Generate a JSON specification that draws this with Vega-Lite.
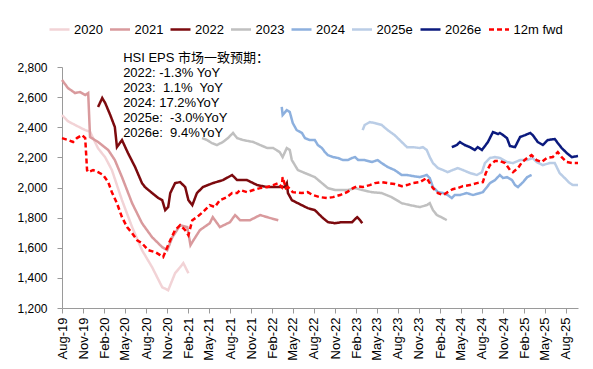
{
  "$schema": "https://vega.github.io/schema/vega-lite/v6.json",
  "width": 516,
  "height": 241,
  "autosize": {"type": "none"},
  "padding": {"left": 62, "top": 67, "right": 15, "bottom": 61},
  "background": "white",
  "config": {
    "view": {"stroke": null},
    "font": "Liberation Sans",
    "axis": {"labelFont": "Liberation Sans", "labelColor": "#000000", "domainColor": "#9a9a9a", "tickColor": "#9a9a9a", "grid": false, "title": null, "labelOverlap": false},
    "legend": {"labelFont": "Liberation Sans", "labelColor": "#000000"}
  },
  "encoding": {
    "x": {
      "field": "d", "type": "temporal",
      "scale": {"domain": [{"year": 2019, "month": 8, "date": 1}, {"year": 2025, "month": 9, "date": 23}], "nice": false},
      "axis": {
        "format": "%b-%y", "labelAngle": -90, "labelFontSize": 13, "labelPadding": 4, "tickSize": 5, "labelOverlap": false,
        "values": [
          {"year":2019,"month":8,"date":1},{"year":2019,"month":11,"date":1},{"year":2020,"month":2,"date":1},{"year":2020,"month":5,"date":1},{"year":2020,"month":8,"date":1},{"year":2020,"month":11,"date":1},{"year":2021,"month":2,"date":1},{"year":2021,"month":5,"date":1},{"year":2021,"month":8,"date":1},{"year":2021,"month":11,"date":1},{"year":2022,"month":2,"date":1},{"year":2022,"month":5,"date":1},{"year":2022,"month":8,"date":1},{"year":2022,"month":11,"date":1},{"year":2023,"month":2,"date":1},{"year":2023,"month":5,"date":1},{"year":2023,"month":8,"date":1},{"year":2023,"month":11,"date":1},{"year":2024,"month":2,"date":1},{"year":2024,"month":5,"date":1},{"year":2024,"month":8,"date":1},{"year":2024,"month":11,"date":1},{"year":2025,"month":2,"date":1},{"year":2025,"month":5,"date":1},{"year":2025,"month":8,"date":1}
        ]
      }
    },
    "y": {
      "field": "v", "type": "quantitative",
      "scale": {"domain": [1200, 2800], "nice": false, "zero": false},
      "axis": {"values": [1200, 1400, 1600, 1800, 2000, 2200, 2400, 2600, 2800], "format": ",.0f", "labelFontSize": 12, "tickSize": 5, "labelPadding": 10, "labelOverlap": false}
    }
  },
  "layer": [
    {
      "data": {"values": [
        {"s":"2020","d":"2019/08/01","v":2481},{"s":"2020","d":"2019/08/27","v":2440},{"s":"2020","d":"2019/09/27","v":2415},{"s":"2020","d":"2019/11/10","v":2381},{"s":"2020","d":"2019/12/01","v":2370},{"s":"2020","d":"2020/01/05","v":2260},{"s":"2020","d":"2020/02/05","v":2200},{"s":"2020","d":"2020/03/05","v":2116},{"s":"2020","d":"2020/04/18","v":1916},{"s":"2020","d":"2020/06/01","v":1737},{"s":"2020","d":"2020/07/14","v":1584},{"s":"2020","d":"2020/08/27","v":1471},{"s":"2020","d":"2020/10/10","v":1338},{"s":"2020","d":"2020/11/05","v":1318},{"s":"2020","d":"2020/12/05","v":1431},{"s":"2020","d":"2020/12/27","v":1471},{"s":"2020","d":"2021/01/10","v":1498},{"s":"2020","d":"2021/02/01","v":1431},

        {"s":"2021","d":"2019/08/01","v":2714},{"s":"2021","d":"2019/08/27","v":2660},{"s":"2021","d":"2019/09/27","v":2627},{"s":"2021","d":"2019/10/18","v":2634},{"s":"2021","d":"2019/11/10","v":2614},{"s":"2021","d":"2019/11/23","v":2627},{"s":"2021","d":"2019/12/01","v":2335},{"s":"2021","d":"2020/01/05","v":2302},{"s":"2021","d":"2020/02/18","v":2249},{"s":"2021","d":"2020/03/18","v":2182},{"s":"2021","d":"2020/04/18","v":2069},{"s":"2021","d":"2020/06/01","v":1896},{"s":"2021","d":"2020/07/14","v":1763},{"s":"2021","d":"2020/08/27","v":1670},{"s":"2021","d":"2020/10/10","v":1604},{"s":"2021","d":"2020/11/01","v":1584},{"s":"2021","d":"2020/11/23","v":1670},{"s":"2021","d":"2020/12/05","v":1697},{"s":"2021","d":"2020/12/27","v":1750},{"s":"2021","d":"2021/01/27","v":1737},{"s":"2021","d":"2021/02/10","v":1617},{"s":"2021","d":"2021/02/23","v":1650},{"s":"2021","d":"2021/03/23","v":1717},{"s":"2021","d":"2021/05/05","v":1763},{"s":"2021","d":"2021/05/18","v":1803},{"s":"2021","d":"2021/06/18","v":1737},{"s":"2021","d":"2021/08/01","v":1770},{"s":"2021","d":"2021/08/23","v":1817},{"s":"2021","d":"2021/09/14","v":1783},{"s":"2021","d":"2021/10/27","v":1783},{"s":"2021","d":"2021/12/10","v":1817},{"s":"2021","d":"2022/01/23","v":1797},{"s":"2021","d":"2022/02/27","v":1783},

        {"s":"2022","d":"2020/01/05","v":2535},{"s":"2022","d":"2020/01/23","v":2594},{"s":"2022","d":"2020/02/05","v":2561},{"s":"2022","d":"2020/02/27","v":2481},{"s":"2022","d":"2020/03/18","v":2401},{"s":"2022","d":"2020/03/27","v":2268},{"s":"2022","d":"2020/04/18","v":2315},{"s":"2022","d":"2020/05/14","v":2229},{"s":"2022","d":"2020/06/14","v":2136},{"s":"2022","d":"2020/07/14","v":2029},{"s":"2022","d":"2020/07/27","v":2003},{"s":"2022","d":"2020/08/27","v":1963},{"s":"2022","d":"2020/09/23","v":1930},{"s":"2022","d":"2020/10/10","v":1916},{"s":"2022","d":"2020/10/23","v":1850},{"s":"2022","d":"2020/11/05","v":1870},{"s":"2022","d":"2020/11/14","v":1963},{"s":"2022","d":"2020/12/05","v":2029},{"s":"2022","d":"2020/12/27","v":2036},{"s":"2022","d":"2021/01/18","v":2003},{"s":"2022","d":"2021/02/01","v":1916},{"s":"2022","d":"2021/02/18","v":1883},{"s":"2022","d":"2021/03/10","v":1963},{"s":"2022","d":"2021/04/05","v":2003},{"s":"2022","d":"2021/05/18","v":2029},{"s":"2022","d":"2021/07/01","v":2049},{"s":"2022","d":"2021/08/10","v":2083},{"s":"2022","d":"2021/09/01","v":2049},{"s":"2022","d":"2021/10/14","v":2049},{"s":"2022","d":"2021/11/27","v":2016},{"s":"2022","d":"2022/01/10","v":2003},{"s":"2022","d":"2022/03/05","v":2003},{"s":"2022","d":"2022/03/27","v":2003},{"s":"2022","d":"2022/04/05","v":2029},{"s":"2022","d":"2022/04/10","v":1963},{"s":"2022","d":"2022/04/27","v":1916},{"s":"2022","d":"2022/05/23","v":1896},{"s":"2022","d":"2022/07/05","v":1863},{"s":"2022","d":"2022/08/05","v":1850},{"s":"2022","d":"2022/09/05","v":1803},{"s":"2022","d":"2022/10/01","v":1770},{"s":"2022","d":"2022/11/01","v":1763},{"s":"2022","d":"2022/12/01","v":1770},{"s":"2022","d":"2023/01/14","v":1770},{"s":"2022","d":"2023/02/05","v":1803},{"s":"2022","d":"2023/02/18","v":1783},{"s":"2022","d":"2023/02/27","v":1763},

        {"s":"2023","d":"2021/04/01","v":2328},{"s":"2023","d":"2021/04/23","v":2315},{"s":"2023","d":"2021/05/14","v":2295},{"s":"2023","d":"2021/06/05","v":2282},{"s":"2023","d":"2021/07/01","v":2302},{"s":"2023","d":"2021/07/23","v":2328},{"s":"2023","d":"2021/08/14","v":2362},{"s":"2023","d":"2021/09/01","v":2328},{"s":"2023","d":"2021/09/27","v":2315},{"s":"2023","d":"2021/11/10","v":2302},{"s":"2023","d":"2021/12/10","v":2282},{"s":"2023","d":"2022/01/10","v":2262},{"s":"2023","d":"2022/02/05","v":2262},{"s":"2023","d":"2022/03/05","v":2235},{"s":"2023","d":"2022/03/18","v":2202},{"s":"2023","d":"2022/04/05","v":2262},{"s":"2023","d":"2022/04/18","v":2249},{"s":"2023","d":"2022/04/27","v":2182},{"s":"2023","d":"2022/05/23","v":2116},{"s":"2023","d":"2022/06/23","v":2096},{"s":"2023","d":"2022/08/05","v":2069},{"s":"2023","d":"2022/09/05","v":2029},{"s":"2023","d":"2022/10/01","v":1996},{"s":"2023","d":"2022/11/01","v":1983},{"s":"2023","d":"2022/12/27","v":1983},{"s":"2023","d":"2023/01/27","v":1996},{"s":"2023","d":"2023/02/27","v":1983},{"s":"2023","d":"2023/04/10","v":1969},{"s":"2023","d":"2023/05/23","v":1963},{"s":"2023","d":"2023/07/05","v":1936},{"s":"2023","d":"2023/08/18","v":1896},{"s":"2023","d":"2023/09/23","v":1883},{"s":"2023","d":"2023/11/05","v":1870},{"s":"2023","d":"2023/12/05","v":1883},{"s":"2023","d":"2023/12/18","v":1896},{"s":"2023","d":"2024/01/01","v":1850},{"s":"2023","d":"2024/01/18","v":1817},{"s":"2023","d":"2024/02/14","v":1797},{"s":"2023","d":"2024/03/01","v":1783},

        {"s":"2024","d":"2022/03/14","v":2535},{"s":"2024","d":"2022/03/18","v":2481},{"s":"2024","d":"2022/04/05","v":2514},{"s":"2024","d":"2022/04/18","v":2501},{"s":"2024","d":"2022/05/01","v":2428},{"s":"2024","d":"2022/05/18","v":2381},{"s":"2024","d":"2022/06/10","v":2362},{"s":"2024","d":"2022/06/23","v":2328},{"s":"2024","d":"2022/07/14","v":2315},{"s":"2024","d":"2022/08/05","v":2315},{"s":"2024","d":"2022/08/18","v":2282},{"s":"2024","d":"2022/09/05","v":2262},{"s":"2024","d":"2022/09/18","v":2235},{"s":"2024","d":"2022/10/01","v":2215},{"s":"2024","d":"2022/10/23","v":2202},{"s":"2024","d":"2022/11/14","v":2196},{"s":"2024","d":"2022/12/05","v":2182},{"s":"2024","d":"2022/12/27","v":2182},{"s":"2024","d":"2023/01/14","v":2196},{"s":"2024","d":"2023/01/27","v":2202},{"s":"2024","d":"2023/02/10","v":2182},{"s":"2024","d":"2023/03/10","v":2182},{"s":"2024","d":"2023/04/10","v":2169},{"s":"2024","d":"2023/05/05","v":2182},{"s":"2024","d":"2023/05/23","v":2162},{"s":"2024","d":"2023/06/18","v":2136},{"s":"2024","d":"2023/07/18","v":2116},{"s":"2024","d":"2023/08/18","v":2083},{"s":"2024","d":"2023/09/10","v":2083},{"s":"2024","d":"2023/10/05","v":2076},{"s":"2024","d":"2023/11/05","v":2069},{"s":"2024","d":"2023/12/05","v":2083},{"s":"2024","d":"2023/12/18","v":2063},{"s":"2024","d":"2024/01/01","v":2003},{"s":"2024","d":"2024/01/23","v":1969},{"s":"2024","d":"2024/02/14","v":1963},{"s":"2024","d":"2024/03/05","v":1950},{"s":"2024","d":"2024/03/23","v":1930},{"s":"2024","d":"2024/04/05","v":1950},{"s":"2024","d":"2024/04/27","v":1950},{"s":"2024","d":"2024/05/27","v":1963},{"s":"2024","d":"2024/06/23","v":1950},{"s":"2024","d":"2024/07/23","v":1963},{"s":"2024","d":"2024/08/05","v":1969},{"s":"2024","d":"2024/08/23","v":2003},{"s":"2024","d":"2024/09/05","v":2029},{"s":"2024","d":"2024/09/27","v":2049},{"s":"2024","d":"2024/10/18","v":2083},{"s":"2024","d":"2024/11/01","v":2063},{"s":"2024","d":"2024/11/18","v":2069},{"s":"2024","d":"2024/12/10","v":2049},{"s":"2024","d":"2024/12/23","v":2016},{"s":"2024","d":"2025/01/05","v":2003},{"s":"2024","d":"2025/01/27","v":2036},{"s":"2024","d":"2025/02/14","v":2069},{"s":"2024","d":"2025/03/05","v":2083},

        {"s":"2025e","d":"2023/03/01","v":2381},{"s":"2025e","d":"2023/03/10","v":2415},{"s":"2025e","d":"2023/04/01","v":2434},{"s":"2025e","d":"2023/04/23","v":2428},{"s":"2025e","d":"2023/05/23","v":2415},{"s":"2025e","d":"2023/06/18","v":2381},{"s":"2025e","d":"2023/07/18","v":2348},{"s":"2025e","d":"2023/08/18","v":2302},{"s":"2025e","d":"2023/09/10","v":2268},{"s":"2025e","d":"2023/10/05","v":2268},{"s":"2025e","d":"2023/11/05","v":2262},{"s":"2025e","d":"2023/11/18","v":2268},{"s":"2025e","d":"2023/12/05","v":2249},{"s":"2025e","d":"2023/12/18","v":2202},{"s":"2025e","d":"2024/01/01","v":2162},{"s":"2025e","d":"2024/01/23","v":2129},{"s":"2025e","d":"2024/02/14","v":2116},{"s":"2025e","d":"2024/03/05","v":2102},{"s":"2025e","d":"2024/03/27","v":2116},{"s":"2025e","d":"2024/04/18","v":2129},{"s":"2025e","d":"2024/05/10","v":2116},{"s":"2025e","d":"2024/06/10","v":2096},{"s":"2025e","d":"2024/07/10","v":2083},{"s":"2025e","d":"2024/08/01","v":2102},{"s":"2025e","d":"2024/08/14","v":2162},{"s":"2025e","d":"2024/09/05","v":2196},{"s":"2025e","d":"2024/09/27","v":2202},{"s":"2025e","d":"2024/10/18","v":2196},{"s":"2025e","d":"2024/11/18","v":2169},{"s":"2025e","d":"2024/12/14","v":2162},{"s":"2025e","d":"2025/01/14","v":2182},{"s":"2025e","d":"2025/02/14","v":2182},{"s":"2025e","d":"2025/03/10","v":2196},{"s":"2025e","d":"2025/03/27","v":2169},{"s":"2025e","d":"2025/04/23","v":2149},{"s":"2025e","d":"2025/05/23","v":2162},{"s":"2025e","d":"2025/06/14","v":2162},{"s":"2025e","d":"2025/07/05","v":2096},{"s":"2025e","d":"2025/07/27","v":2063},{"s":"2025e","d":"2025/08/18","v":2029},{"s":"2025e","d":"2025/09/01","v":2016},{"s":"2025e","d":"2025/09/23","v":2016},

        {"s":"2026e","d":"2024/03/23","v":2268},{"s":"2026e","d":"2024/04/14","v":2282},{"s":"2026e","d":"2024/04/27","v":2302},{"s":"2026e","d":"2024/05/18","v":2282},{"s":"2026e","d":"2024/06/10","v":2268},{"s":"2026e","d":"2024/07/01","v":2249},{"s":"2026e","d":"2024/07/14","v":2268},{"s":"2026e","d":"2024/08/01","v":2249},{"s":"2026e","d":"2024/08/14","v":2275},{"s":"2026e","d":"2024/08/27","v":2302},{"s":"2026e","d":"2024/09/18","v":2368},{"s":"2026e","d":"2024/10/10","v":2355},{"s":"2026e","d":"2024/10/18","v":2362},{"s":"2026e","d":"2024/11/01","v":2348},{"s":"2026e","d":"2024/11/18","v":2328},{"s":"2026e","d":"2024/12/01","v":2275},{"s":"2026e","d":"2024/12/23","v":2268},{"s":"2026e","d":"2025/01/14","v":2335},{"s":"2026e","d":"2025/02/05","v":2348},{"s":"2026e","d":"2025/02/27","v":2362},{"s":"2026e","d":"2025/03/10","v":2348},{"s":"2026e","d":"2025/04/01","v":2302},{"s":"2026e","d":"2025/04/23","v":2282},{"s":"2026e","d":"2025/05/14","v":2315},{"s":"2026e","d":"2025/06/14","v":2322},{"s":"2026e","d":"2025/06/27","v":2295},{"s":"2026e","d":"2025/07/14","v":2262},{"s":"2026e","d":"2025/08/05","v":2229},{"s":"2026e","d":"2025/08/27","v":2202},{"s":"2026e","d":"2025/09/23","v":2209},

        {"s":"12m fwd","d":"2019/08/01","v":2328},{"s":"12m fwd","d":"2019/08/27","v":2315},{"s":"12m fwd","d":"2019/09/18","v":2302},{"s":"12m fwd","d":"2019/10/05","v":2328},{"s":"12m fwd","d":"2019/10/27","v":2348},{"s":"12m fwd","d":"2019/11/10","v":2328},{"s":"12m fwd","d":"2019/11/18","v":2116},{"s":"12m fwd","d":"2019/11/23","v":2102},{"s":"12m fwd","d":"2019/12/14","v":2116},{"s":"12m fwd","d":"2020/01/05","v":2102},{"s":"12m fwd","d":"2020/01/27","v":2083},{"s":"12m fwd","d":"2020/02/18","v":2036},{"s":"12m fwd","d":"2020/03/05","v":1969},{"s":"12m fwd","d":"2020/03/27","v":1896},{"s":"12m fwd","d":"2020/04/18","v":1803},{"s":"12m fwd","d":"2020/05/10","v":1737},{"s":"12m fwd","d":"2020/06/01","v":1697},{"s":"12m fwd","d":"2020/06/23","v":1650},{"s":"12m fwd","d":"2020/07/14","v":1630},{"s":"12m fwd","d":"2020/08/10","v":1584},{"s":"12m fwd","d":"2020/09/10","v":1571},{"s":"12m fwd","d":"2020/10/01","v":1551},{"s":"12m fwd","d":"2020/10/14","v":1538},{"s":"12m fwd","d":"2020/11/01","v":1604},{"s":"12m fwd","d":"2020/11/14","v":1650},{"s":"12m fwd","d":"2020/12/05","v":1717},{"s":"12m fwd","d":"2020/12/27","v":1750},{"s":"12m fwd","d":"2021/01/18","v":1717},{"s":"12m fwd","d":"2021/02/01","v":1684},{"s":"12m fwd","d":"2021/02/18","v":1783},{"s":"12m fwd","d":"2021/03/10","v":1803},{"s":"12m fwd","d":"2021/04/05","v":1837},{"s":"12m fwd","d":"2021/05/05","v":1883},{"s":"12m fwd","d":"2021/05/27","v":1870},{"s":"12m fwd","d":"2021/06/18","v":1916},{"s":"12m fwd","d":"2021/07/18","v":1936},{"s":"12m fwd","d":"2021/08/10","v":1963},{"s":"12m fwd","d":"2021/09/01","v":1963},{"s":"12m fwd","d":"2021/09/14","v":1983},{"s":"12m fwd","d":"2021/10/14","v":1969},{"s":"12m fwd","d":"2021/11/10","v":1983},{"s":"12m fwd","d":"2021/12/10","v":1996},{"s":"12m fwd","d":"2022/01/10","v":2003},{"s":"12m fwd","d":"2022/02/05","v":2016},{"s":"12m fwd","d":"2022/02/27","v":2029},{"s":"12m fwd","d":"2022/03/14","v":2003},{"s":"12m fwd","d":"2022/03/18","v":2069},{"s":"12m fwd","d":"2022/04/01","v":1996},{"s":"12m fwd","d":"2022/04/10","v":2003},{"s":"12m fwd","d":"2022/05/01","v":1969},{"s":"12m fwd","d":"2022/06/10","v":1963},{"s":"12m fwd","d":"2022/07/05","v":1969},{"s":"12m fwd","d":"2022/07/27","v":1950},{"s":"12m fwd","d":"2022/08/27","v":1936},{"s":"12m fwd","d":"2022/09/27","v":1930},{"s":"12m fwd","d":"2022/10/23","v":1936},{"s":"12m fwd","d":"2022/11/23","v":1950},{"s":"12m fwd","d":"2022/12/23","v":1969},{"s":"12m fwd","d":"2023/01/18","v":1996},{"s":"12m fwd","d":"2023/02/05","v":2009},{"s":"12m fwd","d":"2023/03/01","v":2003},{"s":"12m fwd","d":"2023/04/01","v":2016},{"s":"12m fwd","d":"2023/04/23","v":2029},{"s":"12m fwd","d":"2023/05/23","v":2036},{"s":"12m fwd","d":"2023/06/18","v":2029},{"s":"12m fwd","d":"2023/07/18","v":2023},{"s":"12m fwd","d":"2023/08/18","v":2009},{"s":"12m fwd","d":"2023/09/10","v":2016},{"s":"12m fwd","d":"2023/10/05","v":2029},{"s":"12m fwd","d":"2023/11/05","v":2036},{"s":"12m fwd","d":"2023/12/05","v":2063},{"s":"12m fwd","d":"2023/12/18","v":2029},{"s":"12m fwd","d":"2024/01/01","v":1996},{"s":"12m fwd","d":"2024/01/23","v":1963},{"s":"12m fwd","d":"2024/02/14","v":1950},{"s":"12m fwd","d":"2024/03/05","v":1969},{"s":"12m fwd","d":"2024/03/27","v":1989},{"s":"12m fwd","d":"2024/04/18","v":1996},{"s":"12m fwd","d":"2024/05/10","v":2009},{"s":"12m fwd","d":"2024/06/10","v":2016},{"s":"12m fwd","d":"2024/07/10","v":2029},{"s":"12m fwd","d":"2024/08/05","v":2036},{"s":"12m fwd","d":"2024/08/18","v":2096},{"s":"12m fwd","d":"2024/09/05","v":2149},{"s":"12m fwd","d":"2024/09/27","v":2176},{"s":"12m fwd","d":"2024/10/18","v":2176},{"s":"12m fwd","d":"2024/11/10","v":2162},{"s":"12m fwd","d":"2024/12/01","v":2116},{"s":"12m fwd","d":"2024/12/14","v":2102},{"s":"12m fwd","d":"2025/01/05","v":2129},{"s":"12m fwd","d":"2025/01/23","v":2169},{"s":"12m fwd","d":"2025/02/14","v":2196},{"s":"12m fwd","d":"2025/03/05","v":2215},{"s":"12m fwd","d":"2025/03/27","v":2182},{"s":"12m fwd","d":"2025/04/18","v":2169},{"s":"12m fwd","d":"2025/05/10","v":2196},{"s":"12m fwd","d":"2025/06/05","v":2202},{"s":"12m fwd","d":"2025/06/27","v":2235},{"s":"12m fwd","d":"2025/07/14","v":2202},{"s":"12m fwd","d":"2025/08/05","v":2169},{"s":"12m fwd","d":"2025/09/01","v":2162},{"s":"12m fwd","d":"2025/09/23","v":2162}
      ]},
      "mark": {"type": "line", "interpolate": "linear"},
      "encoding": {
        "color": {
          "field": "s", "type": "nominal", "title": null,
          "scale": {
            "domain": ["2020", "2021", "2022", "2023", "2024", "2025e", "2026e", "12m fwd"],
            "range": ["#f2d3d6", "#d99a9d", "#7c0a0e", "#c0c0c0", "#8db0de", "#bacde6", "#0b1a7e", "#ff0000"]
          },
          "legend": {
            "orient": "none", "direction": "horizontal", "legendX": -14, "legendY": -49,
            "symbolType": "stroke", "symbolSize": 400, "symbolStrokeWidth": 3, "gridAlign": "none",
            "labelFontSize": 13, "labelOffset": 3, "columnPadding": 1.5, "padding": 0
          }
        },
        "strokeDash": {
          "field": "s", "type": "nominal", "title": null,
          "scale": {
            "domain": ["2020", "2021", "2022", "2023", "2024", "2025e", "2026e", "12m fwd"],
            "range": [[1, 0], [1, 0], [1, 0], [1, 0], [1, 0], [1, 0], [1, 0], [5, 3]]
          }
        },
        "strokeWidth": {
          "field": "s", "type": "nominal", "legend": null,
          "scale": {
            "domain": ["2020", "2021", "2022", "2023", "2024", "2025e", "2026e", "12m fwd"],
            "range": [2.5, 2.5, 2.8, 2.5, 2.5, 2.5, 2.8, 2]
          }
        }
      }
    },
    {
      "data": {"values": [
        {"d": "2020/04/23", "v": 2900, "label": "HSI EPS 市场一致预期：\n2022: -1.3% YoY\n2023:\u00a0 1.1%\u00a0 YoY\n2024: 17.2%YoY\n2025e:\u00a0 -3.0%YoY\n2026e:\u00a0 9.4%YoY"}
      ]},
      "mark": {"type": "text", "align": "left", "baseline": "top", "lineBreak": "\n", "lineHeight": 15, "fontSize": 13, "font": "Liberation Sans, Noto Sans CJK SC", "color": "#000000"},
      "encoding": {
        "text": {"field": "label", "type": "nominal"}
      }
    }
  ]
}
